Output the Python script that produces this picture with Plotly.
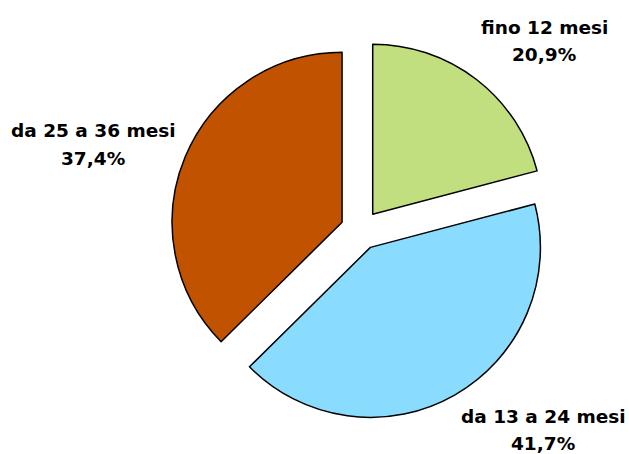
import plotly.graph_objects as go

# Data
categories = ["fino 12 mesi", "da 13 a 24 mesi", "da 25 a 36 mesi"]
values = [20.9, 41.7, 37.4]

# Styling
colors = ["#c2df80", "#8adcff", "#c05200"]
W, H = 629, 454
# label centre positions in pixels (x, name line y, percent line y)
label_pos = [(544, 27, 55), (543, 416, 443), (93, 130, 158)]

fig = go.Figure()
fig.add_trace(go.Pie(
    labels=categories,
    values=values,
    sort=False,
    direction="clockwise",
    rotation=0,
    pull=[0.1176] * len(values),
    marker=dict(colors=colors, line=dict(color="#000000", width=1.5)),
    textinfo="none",
    hoverinfo="label+percent",
    showlegend=False,
    domain=dict(x=[0.2711, 0.8752], y=[0.0749, 0.9119]),
))

font = dict(family="DejaVu Sans", size=18.5, color="#000000")
annotations = []
for cat, val, (px, py1, py2) in zip(categories, values, label_pos):
    pct = f"{val:.1f}".replace(".", ",") + "%"
    for txt, py in ((cat, py1), (pct, py2)):
        annotations.append(dict(
            x=px / W, y=1 - py / H, xref="paper", yref="paper",
            text=f"<b>{txt}</b>", showarrow=False, font=font,
            xanchor="center", yanchor="middle",
        ))

fig.update_layout(
    width=W, height=H,
    margin=dict(l=0, r=0, t=0, b=0),
    paper_bgcolor="#ffffff",
    plot_bgcolor="#ffffff",
    annotations=annotations,
)

fig.write_html(
    "out.html",
    config={"displayModeBar": False},
    post_script="document.body.style.margin='0px';document.body.style.overflow='hidden';",
)
